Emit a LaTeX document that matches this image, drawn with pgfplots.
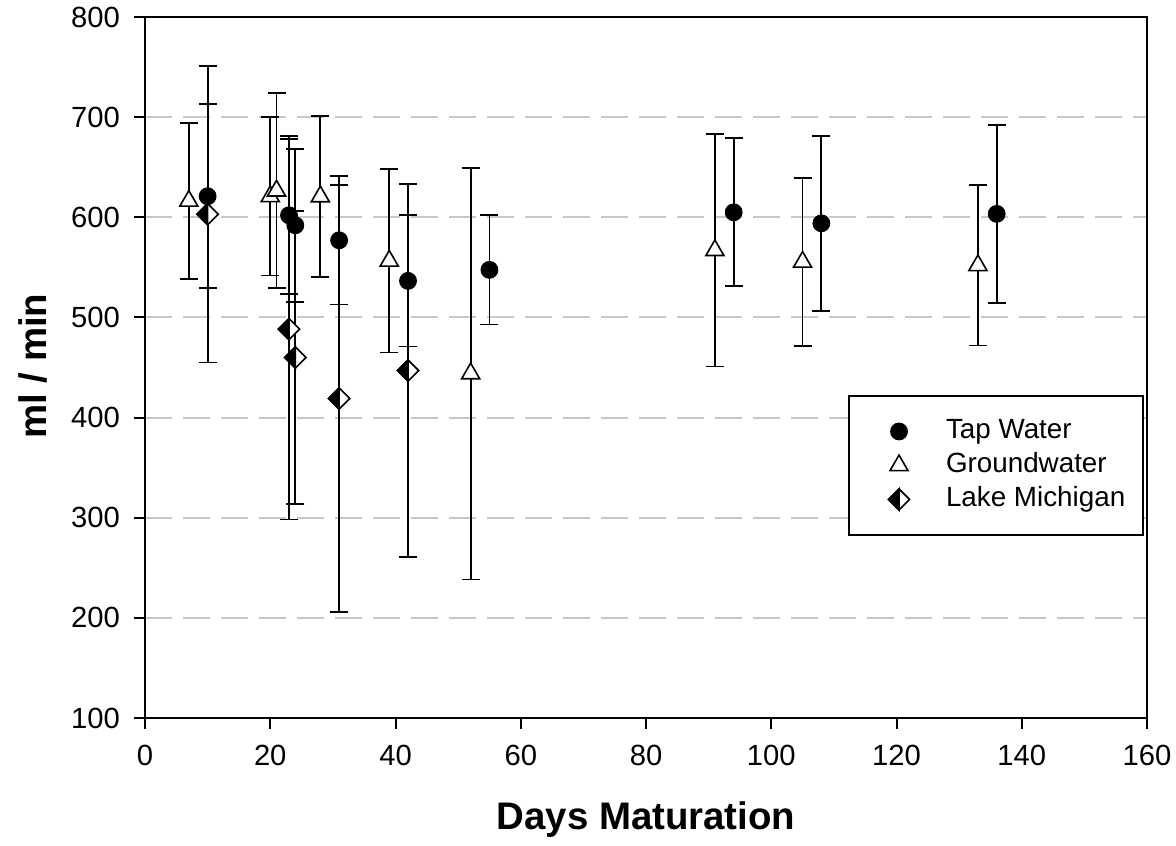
\documentclass[border=0pt]{standalone}
\usepackage{fontspec}
\setmainfont{Liberation Sans}
\usepackage{pgfplots}
\pgfplotsset{compat=1.18}

% diamond with the left half filled black, the right half white
\pgfdeclareplotmark{halfdiamond}{%
  \pgfpathmoveto{\pgfqpoint{0pt}{\pgfplotmarksize}}%
  \pgfpathlineto{\pgfqpoint{\pgfplotmarksize}{0pt}}%
  \pgfpathlineto{\pgfqpoint{0pt}{-\pgfplotmarksize}}%
  \pgfpathlineto{\pgfqpoint{-\pgfplotmarksize}{0pt}}%
  \pgfpathclose
  \pgfsetfillcolor{white}%
  \pgfusepathqfillstroke
  \pgfpathmoveto{\pgfqpoint{0pt}{\pgfplotmarksize}}%
  \pgfpathlineto{\pgfqpoint{-\pgfplotmarksize}{0pt}}%
  \pgfpathlineto{\pgfqpoint{0pt}{-\pgfplotmarksize}}%
  \pgfpathclose
  \pgfsetfillcolor{black}%
  \pgfusepathqfillstroke
}

\definecolor{gridgray}{RGB}{200,200,200}

\begin{document}
\begin{tikzpicture}
\useasboundingbox (0,0) rectangle (588pt,422.5pt);
\begin{axis}[
  at={(72.5pt,63.5pt)}, anchor=south west,
  width=501pt, height=350.5pt, scale only axis,
  xmin=0, xmax=160, ymin=100, ymax=800,
  xtick={0,20,...,160}, ytick={100,200,...,800},
  tick align=outside, tick pos=left,
  major tick length=5.5pt,
  axis line style={line width=1pt, black},
  every tick/.style={line width=1pt, black},
  ymajorgrids,
  grid style={gridgray, line width=1pt, dash pattern=on 13.5pt off 5.5pt},
  /pgf/number format/assume math mode=true,
  ticklabel style={font=\fontsize{14.6}{17}\selectfont},
  xticklabel style={yshift=-4.5pt},
  yticklabel style={xshift=-3.5pt},
  xlabel={Days Maturation},
  ylabel={ml / min},
  xlabel style={font=\fontsize{19.2}{22}\selectfont\bfseries,
    at={(axis description cs:0.5,-0.1455)}, anchor=center},
  ylabel style={font=\fontsize{19.2}{22}\selectfont\bfseries,
    at={(axis description cs:-0.1118,0.502)}, anchor=center, rotate=0},
  error bars/error bar style={line width=0.9pt, black},
  error bars/error mark options={rotate=90, line width=0.9pt, black, mark size=4.5pt},
  legend cell align=left,
  legend image code/.code={%
    \path (-15.5pt,0pt) (23pt,0pt);
    \draw[#1] plot coordinates {(0pt,0pt)};},
  legend style={
    at={(axis description cs:0.7016,0.4608)}, anchor=north west,
    draw=black, line width=1pt, fill=white,
    inner xsep=9pt, inner ysep=12pt, row sep=5.5pt,
    font=\fontsize{13.9}{16}\selectfont,
    nodes={inner xsep=0pt, inner ysep=0pt, text height=9.5pt, text depth=2pt},
  },
]

% Tap Water
\addplot[only marks, mark=*, mark size=4.2pt,
  mark options={fill=black, draw=black, line width=0.5pt},
  error bars/.cd, y dir=both, y explicit]
  coordinates {
    (10,621)   +- (0,92)
    (23,602)   +- (0,79)
    (24,592)   +- (0,76.5)
    (31,577)   +- (0,64)
    (42,536.5) +- (0,65.5)
    (55,547.5) +- (0,54.5)
    (94,605)   +- (0,74)
    (108,594)  +- (0,87.5)
    (136,603.4)+- (0,89)
  };
\addlegendentry{Tap Water}

% Groundwater
\addplot[only marks, mark=triangle*, mark size=5.2pt,
  mark options={fill=white, draw=black, line width=0.8pt},
  error bars/.cd, y dir=both, y explicit]
  coordinates {
    (7,616.3)  +- (0,78)
    (20,620.8) +- (0,79)
    (21,626.5) +- (0,97.5)
    (28,620.7) +- (0,80.7)
    (39,556.5) +- (0,91.5)
    (52,444)   +- (0,205.6)
    (91,567)   +- (0,116)
    (105,555.4)+- (0,83.6)
    (133,552)  +- (0,80)
  };
\addlegendentry{Groundwater}

% Lake Michigan
\addplot[only marks, mark=halfdiamond, mark size=5.3pt,
  mark options={draw=black, line width=0.8pt},
  error bars/.cd, y dir=both, y explicit]
  coordinates {
    (10,603)   +- (0,148)
    (23,488.3) +- (0,190)
    (24,460)   +- (0,146)
    (31,419)   +- (0,213)
    (42,447)   +- (0,186)
  };
\addlegendentry{Lake Michigan}

\end{axis}
\end{tikzpicture}
\end{document}
